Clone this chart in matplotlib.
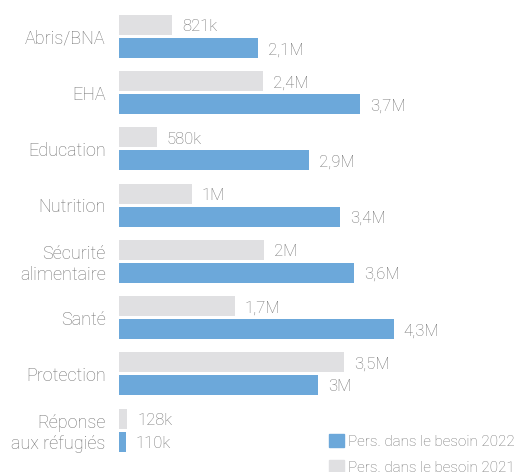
import numpy as np
import matplotlib.pyplot as plt
from matplotlib.patches import Patch

plt.rcParams['font.family'] = ['Roboto', 'DejaVu Sans']

categories = ['Abris/BNA', 'EHA', 'Education', 'Nutrition', 'Sécurité\nalimentaire',
              'Santé', 'Protection', 'Réponse\naux réfugiés']
besoin_2021 = [0.82, 2.22, 0.58, 1.12, 2.23, 1.78, 3.46, 0.128]
besoin_2022 = [2.14, 3.71, 2.92, 3.40, 3.62, 4.23, 3.06, 0.110]
labels_2021 = ['821k', '2,4M', '580k', '1M', '2M', '1,7M', '3,5M', '128k']
labels_2022 = ['2,1M', '3,7M', '2,9M', '3,4M', '3,6M', '4,3M', '3M', '110k']

BLUE = '#6ca8da'
GREY = '#e0e0e2'
TXT = '#737373'

fig = plt.figure(figsize=(5.26, 4.72), dpi=100)
ax = fig.add_axes([119/526, 0, 400/526, 1])

y = np.arange(len(categories))
h = 0.356
off = 0.2046
ax.barh(y - off, besoin_2021, height=h, color=GREY)
ax.barh(y + off, besoin_2022, height=h, color=BLUE)

for i in range(len(categories)):
    ax.text(besoin_2021[i] + 0.15, y[i] - off + 0.03, labels_2021[i], va='center', ha='left',
            fontsize=12, color=TXT, fontweight='light')
    ax.text(besoin_2022[i] + 0.15, y[i] + off + 0.03, labels_2022[i], va='center', ha='left',
            fontsize=12, color=TXT, fontweight='light')

ax.set_xlim(0, 400/65)
ax.set_ylim(7.747, -0.65)
ax.set_yticks(y)
ax.set_yticklabels(categories, fontsize=13, color=TXT, fontweight='light')
ax.set_xticks([])
ax.tick_params(axis='y', length=0, pad=9.5)
for s in ax.spines.values():
    s.set_visible(False)

handles = [Patch(color=BLUE, label='Pers. dans le besoin 2022'),
           Patch(color=GREY, label='Pers. dans le besoin 2021')]
leg = ax.legend(handles=handles, loc='upper left', bbox_to_anchor=(210/400, 1 - 434/472),
                frameon=False, fontsize=11, handlelength=0.95, handleheight=0.95,
                handletextpad=0.3, labelspacing=0.75, borderpad=0, borderaxespad=0)
for t in leg.get_texts():
    t.set_color(TXT)
    t.set_fontweight('light')

fig.savefig('out.png', dpi=100)
